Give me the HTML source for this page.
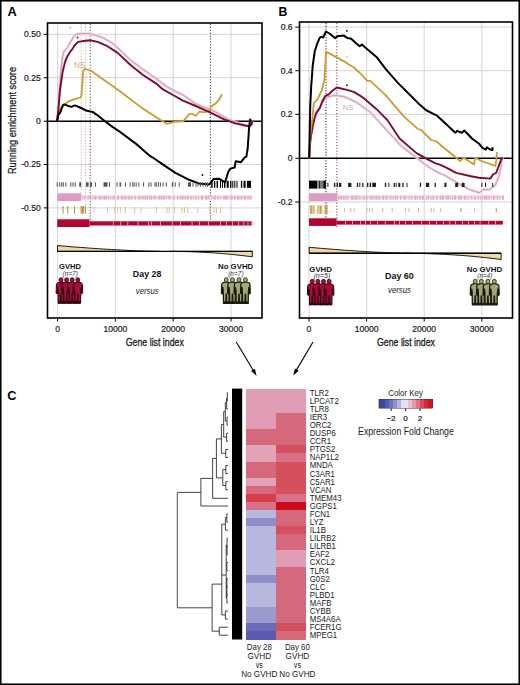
<!DOCTYPE html><html><head><meta charset="utf-8"><style>html,body{margin:0;padding:0;background:#fff;}svg{display:block;}text{font-family:"Liberation Sans", sans-serif;}</style></head><body>
<svg width="520" height="685" viewBox="0 0 520 685">
<rect x="0" y="0" width="520" height="685" fill="#fff"/>
<line x1="57.6" y1="23.0" x2="57.6" y2="318.0" stroke="#cfcfcf" stroke-width="0.9"/>
<line x1="115.4" y1="23.0" x2="115.4" y2="318.0" stroke="#cfcfcf" stroke-width="0.9"/>
<line x1="173.2" y1="23.0" x2="173.2" y2="318.0" stroke="#cfcfcf" stroke-width="0.9"/>
<line x1="231.0" y1="23.0" x2="231.0" y2="318.0" stroke="#cfcfcf" stroke-width="0.9"/>
<line x1="47.5" y1="34.3" x2="262.0" y2="34.3" stroke="#cfcfcf" stroke-width="0.9"/>
<line x1="47.5" y1="77.7" x2="262.0" y2="77.7" stroke="#cfcfcf" stroke-width="0.9"/>
<line x1="47.5" y1="164.5" x2="262.0" y2="164.5" stroke="#cfcfcf" stroke-width="0.9"/>
<line x1="47.5" y1="207.9" x2="262.0" y2="207.9" stroke="#cfcfcf" stroke-width="0.9"/>
<line x1="81.2" y1="24" x2="81.2" y2="201" stroke="#c8a0b4" stroke-width="0.9" stroke-dasharray="1.2,1.7"/>
<line x1="85.7" y1="24" x2="85.7" y2="214" stroke="#c8b070" stroke-width="0.9" stroke-dasharray="1.2,1.7"/>
<line x1="90.2" y1="24" x2="90.2" y2="227" stroke="#503040" stroke-width="0.9" stroke-dasharray="1.2,1.7"/>
<line x1="210.4" y1="24" x2="210.4" y2="220" stroke="#222" stroke-width="0.9" stroke-dasharray="1.2,1.7"/>
<line x1="47.5" y1="121.2" x2="262.0" y2="121.2" stroke="#000" stroke-width="1.6"/>
<polyline points="57.2,121.0 58.2,105.0 59.4,90.0 61.0,70.0 62.5,57.0 63.8,51.9 67.5,47.5 71.0,41.0 75.0,35.0 78.0,34.0 81.2,33.5 90.0,33.8 101.2,36.9 111.2,42.5 118.0,48.1 130.5,60.0 143.0,69.4 155.5,78.1 168.0,87.5 183.0,95.0 195.8,103.7 214.7,111.5 227.3,118.6 236.8,122.6 246.0,125.2 249.5,125.8 251.5,124.0 252.5,121.2" fill="none" stroke="#f4cde0" stroke-width="2.6" stroke-linejoin="round"/>
<polyline points="57.2,121.0 58.2,105.0 59.4,90.0 61.0,70.0 62.5,57.0 63.8,51.9 67.5,47.5 71.0,41.0 75.0,35.0 78.0,34.0 81.2,33.5 90.0,33.8 101.2,36.9 111.2,42.5 118.0,48.1 130.5,60.0 143.0,69.4 155.5,78.1 168.0,87.5 183.0,95.0 195.8,103.7 214.7,111.5 227.3,118.6 236.8,122.6 246.0,125.2 249.5,125.8 251.5,124.0 252.5,121.2" fill="none" stroke="#bf9cad" stroke-width="0.9" stroke-linejoin="round"/>
<polyline points="57.2,121.0 58.5,114.0 60.5,108.0 62.0,106.0 64.0,105.5 67.5,101.9 73.8,99.4 80.6,97.5 81.5,95.0 81.8,90.0 83.1,71.2 85.0,68.8 87.0,69.5 90.6,70.6 120.0,91.3 124.2,94.5 140.5,106.9 160.5,120.0 166.8,123.8 174.2,121.9 183.2,121.3 189.5,113.9 192.6,113.9 195.8,116.0 199.7,111.5 203.7,112.3 210.0,110.8 210.8,106.8 216.3,102.9 220.2,98.1 221.8,94.2" fill="none" stroke="#cc9c30" stroke-width="1.8" stroke-linejoin="round"/>
<polyline points="57.2,121.0 58.5,108.0 60.0,90.0 62.5,72.5 65.0,62.0 67.5,56.2 70.0,52.0 72.5,48.8 75.0,45.0 78.1,41.9 83.8,41.0 90.0,40.2 97.5,41.9 107.5,46.2 118.0,53.1 130.5,65.0 143.0,75.0 155.5,83.1 163.0,89.4 173.0,95.0 183.0,100.6 195.8,106.0 210.0,112.3 224.2,119.4 235.2,123.4 246.2,125.7 249.5,126.3 251.5,124.5 252.5,121.3" fill="none" stroke="#800a30" stroke-width="1.9" stroke-linejoin="round"/>
<polyline points="57.2,121.0 58.1,115.0 60.0,113.0 61.5,109.0 63.1,105.0 64.4,104.4 67.5,105.6 71.2,106.9 75.0,105.4 80.0,107.5 86.2,110.6 92.5,111.9 98.8,116.2 105.0,121.2 112.5,126.9 120.0,131.9 136.8,144.4 150.0,155.9 154.2,158.5 162.7,164.3 175.4,172.8 189.1,179.8 198.7,183.4 209.2,184.4 213.5,179.1 218.8,178.7 225.1,182.3 228.3,171.7 230.4,168.6 234.6,167.5 235.7,161.2 241.0,162.2 244.7,157.3 246.3,156.9 247.7,148.5 249.1,127.3 250.2,119.4 251.0,121.8" fill="none" stroke="#000" stroke-width="2.0" stroke-linejoin="round"/>
<circle cx="70.3" cy="27.6" r="0.9" fill="#aaa"/>
<circle cx="77.5" cy="37.5" r="0.9" fill="#6a0a2a"/>
<circle cx="202.5" cy="175" r="0.9" fill="#000"/>
<text x="74.0" y="68.0" font-size="8.3" fill="#dea468" style="font-family:"Liberation Sans", sans-serif">NS</text>
<rect x="47.5" y="23.0" width="214.5" height="295.0" fill="none" stroke="#000" stroke-width="1.6"/>
<line x1="43.8" y1="34.3" x2="47.5" y2="34.3" stroke="#000" stroke-width="1"/>
<line x1="43.8" y1="77.7" x2="47.5" y2="77.7" stroke="#000" stroke-width="1"/>
<line x1="43.8" y1="164.5" x2="47.5" y2="164.5" stroke="#000" stroke-width="1"/>
<line x1="43.8" y1="207.9" x2="47.5" y2="207.9" stroke="#000" stroke-width="1"/>
<line x1="43.8" y1="121.2" x2="47.5" y2="121.2" stroke="#000" stroke-width="1"/>
<text x="40.8" y="37.1" font-size="8.6" fill="#1a1a1a" text-anchor="end" stroke="#1a1a1a" stroke-width="0.2" style="font-family:"Liberation Sans", sans-serif">0.50</text>
<text x="40.8" y="80.5" font-size="8.6" fill="#1a1a1a" text-anchor="end" stroke="#1a1a1a" stroke-width="0.2" style="font-family:"Liberation Sans", sans-serif">0.25</text>
<text x="40.8" y="167.3" font-size="8.6" fill="#1a1a1a" text-anchor="end" stroke="#1a1a1a" stroke-width="0.2" style="font-family:"Liberation Sans", sans-serif">-0.25</text>
<text x="40.8" y="210.7" font-size="8.6" fill="#1a1a1a" text-anchor="end" stroke="#1a1a1a" stroke-width="0.2" style="font-family:"Liberation Sans", sans-serif">-0.50</text>
<text x="40.8" y="124.0" font-size="8.6" fill="#1a1a1a" text-anchor="end" stroke="#1a1a1a" stroke-width="0.2" style="font-family:"Liberation Sans", sans-serif">0</text>
<line x1="57.6" y1="318" x2="57.6" y2="321.5" stroke="#000" stroke-width="1"/>
<text x="57.6" y="332" font-size="8.6" fill="#1a1a1a" text-anchor="middle" stroke="#1a1a1a" stroke-width="0.2" style="font-family:"Liberation Sans", sans-serif">0</text>
<line x1="115.4" y1="318" x2="115.4" y2="321.5" stroke="#000" stroke-width="1"/>
<text x="115.4" y="332" font-size="8.6" fill="#1a1a1a" text-anchor="middle" stroke="#1a1a1a" stroke-width="0.2" style="font-family:"Liberation Sans", sans-serif">10000</text>
<line x1="173.2" y1="318" x2="173.2" y2="321.5" stroke="#000" stroke-width="1"/>
<text x="173.2" y="332" font-size="8.6" fill="#1a1a1a" text-anchor="middle" stroke="#1a1a1a" stroke-width="0.2" style="font-family:"Liberation Sans", sans-serif">20000</text>
<line x1="231.0" y1="318" x2="231.0" y2="321.5" stroke="#000" stroke-width="1"/>
<text x="231.0" y="332" font-size="8.6" fill="#1a1a1a" text-anchor="middle" stroke="#1a1a1a" stroke-width="0.2" style="font-family:"Liberation Sans", sans-serif">30000</text>
<text x="154.8" y="345.8" font-size="10.6" fill="#1a1a1a" text-anchor="middle" textLength="58" lengthAdjust="spacingAndGlyphs" stroke="#1a1a1a" stroke-width="0.3" style="font-family:"Liberation Sans", sans-serif">Gene list index</text>
<text transform="translate(16.1,120.5) rotate(-90)" font-size="10.3" fill="#1a1a1a" text-anchor="middle" textLength="107" lengthAdjust="spacingAndGlyphs" stroke="#1a1a1a" stroke-width="0.25" style="font-family:"Liberation Sans", sans-serif">Running enrichment score</text>
<line x1="309.0" y1="22.0" x2="309.0" y2="318.0" stroke="#cfcfcf" stroke-width="0.9"/>
<line x1="366.6" y1="22.0" x2="366.6" y2="318.0" stroke="#cfcfcf" stroke-width="0.9"/>
<line x1="424.2" y1="22.0" x2="424.2" y2="318.0" stroke="#cfcfcf" stroke-width="0.9"/>
<line x1="481.8" y1="22.0" x2="481.8" y2="318.0" stroke="#cfcfcf" stroke-width="0.9"/>
<line x1="299.5" y1="27.1" x2="512.5" y2="27.1" stroke="#cfcfcf" stroke-width="0.9"/>
<line x1="299.5" y1="70.7" x2="512.5" y2="70.7" stroke="#cfcfcf" stroke-width="0.9"/>
<line x1="299.5" y1="114.4" x2="512.5" y2="114.4" stroke="#cfcfcf" stroke-width="0.9"/>
<line x1="299.5" y1="202.0" x2="512.5" y2="202.0" stroke="#cfcfcf" stroke-width="0.9"/>
<line x1="326" y1="23" x2="326" y2="218" stroke="#3a3418" stroke-width="1.1" stroke-dasharray="1.2,1.6"/>
<line x1="336.9" y1="23" x2="336.9" y2="227" stroke="#7a2040" stroke-width="0.9" stroke-dasharray="1.2,1.7"/>
<line x1="299.5" y1="158.3" x2="512.5" y2="158.3" stroke="#000" stroke-width="1.6"/>
<polyline points="309.2,158.3 309.8,145.0 311.0,136.0 312.5,127.5 314.0,120.0 316.2,113.5 320.0,108.0 322.0,103.0 326.2,97.5 332.5,95.6 337.5,95.6 345.0,96.9 356.5,102.3 370.4,112.3 385.8,129.2 401.2,146.2 416.5,157.7 427.3,166.2 435.0,170.8 446.3,176.2 462.7,186.0 470.9,190.0 479.0,192.8 483.9,189.2 488.8,190.0 495.4,185.1 499.5,174.5 501.9,159.8 503.0,157.0" fill="none" stroke="#f4cde0" stroke-width="2.6" stroke-linejoin="round"/>
<polyline points="309.2,158.3 309.8,145.0 311.0,136.0 312.5,127.5 314.0,120.0 316.2,113.5 320.0,108.0 322.0,103.0 326.2,97.5 332.5,95.6 337.5,95.6 345.0,96.9 356.5,102.3 370.4,112.3 385.8,129.2 401.2,146.2 416.5,157.7 427.3,166.2 435.0,170.8 446.3,176.2 462.7,186.0 470.9,190.0 479.0,192.8 483.9,189.2 488.8,190.0 495.4,185.1 499.5,174.5 501.9,159.8 503.0,157.0" fill="none" stroke="#bf9cad" stroke-width="0.9" stroke-linejoin="round"/>
<polyline points="309.2,158.3 309.8,145.0 311.0,136.0 312.5,127.5 314.0,120.0 316.2,113.1 320.0,107.5 322.0,102.0 325.0,96.2 328.8,94.4 332.0,91.0 336.9,87.5 345.0,89.4 353.8,91.9 360.0,95.6 364.2,98.5 376.5,109.2 382.7,115.4 387.3,120.0 399.6,138.5 416.5,153.1 427.3,159.2 435.0,163.1 439.8,164.7 446.3,167.6 456.2,172.9 470.9,176.2 479.0,177.8 490.5,178.6 492.9,174.5 496.2,172.9 498.6,166.3 501.1,159.8 502.7,157.4" fill="none" stroke="#800a30" stroke-width="1.9" stroke-linejoin="round"/>
<polyline points="309.2,158.3 310.6,132.5 312.5,117.5 313.8,103.1 317.5,99.4 321.9,90.0 324.4,80.0 325.0,70.0 326.0,52.5 328.8,53.1 345.0,61.9 353.8,67.5 360.0,73.0 367.3,80.8 370.4,80.8 385.8,95.4 398.1,109.8 404.2,116.9 418.1,129.2 421.2,130.0 431.2,140.0 436.5,141.5 446.3,149.7 456.2,157.8 460.2,161.1 463.5,157.8 474.1,164.4 475.0,157.8 482.7,161.5 495.4,165.8 496.2,160.4 496.9,151.9" fill="none" stroke="#cc9c30" stroke-width="1.8" stroke-linejoin="round"/>
<polyline points="309.2,158.3 309.6,140.0 310.2,106.6 311.2,86.2 312.7,65.8 314.7,51.5 317.3,43.4 319.8,37.6 321.4,36.8 323.1,37.5 326.0,31.5 329.4,33.5 335.0,38.1 337.5,36.2 343.8,35.6 347.5,38.1 351.2,38.8 355.0,42.3 359.6,46.2 361.9,44.6 367.3,49.2 376.5,56.9 385.8,69.2 398.1,83.1 408.8,93.8 419.6,104.6 425.8,110.0 431.9,113.1 436.5,115.3 446.3,124.3 455.3,132.8 457.0,130.9 461.9,132.8 464.3,130.5 472.5,139.0 478.8,143.5 482.7,148.1 485.8,149.6 486.9,147.3 489.6,149.2 492.3,150.0 492.8,147.3" fill="none" stroke="#000" stroke-width="2.0" stroke-linejoin="round"/>
<circle cx="346.9" cy="30.9" r="0.9" fill="#000"/>
<circle cx="346.9" cy="56.9" r="0.9" fill="#d8b070"/>
<circle cx="346.9" cy="85.25" r="0.9" fill="#6a0a2a"/>
<text x="342.8" y="109.8" font-size="7.6" fill="#d8a8c0" style="font-family:"Liberation Sans", sans-serif">NS</text>
<rect x="299.5" y="22.0" width="213.0" height="296.0" fill="none" stroke="#000" stroke-width="1.6"/>
<line x1="295.3" y1="27.1" x2="299.5" y2="27.1" stroke="#000" stroke-width="1"/>
<text x="292.6" y="29.9" font-size="8.6" fill="#1a1a1a" text-anchor="end" stroke="#1a1a1a" stroke-width="0.2" style="font-family:"Liberation Sans", sans-serif">0.6</text>
<line x1="295.3" y1="70.7" x2="299.5" y2="70.7" stroke="#000" stroke-width="1"/>
<text x="292.6" y="73.5" font-size="8.6" fill="#1a1a1a" text-anchor="end" stroke="#1a1a1a" stroke-width="0.2" style="font-family:"Liberation Sans", sans-serif">0.4</text>
<line x1="295.3" y1="114.4" x2="299.5" y2="114.4" stroke="#000" stroke-width="1"/>
<text x="292.6" y="117.2" font-size="8.6" fill="#1a1a1a" text-anchor="end" stroke="#1a1a1a" stroke-width="0.2" style="font-family:"Liberation Sans", sans-serif">0.2</text>
<line x1="295.3" y1="202.0" x2="299.5" y2="202.0" stroke="#000" stroke-width="1"/>
<text x="292.6" y="204.8" font-size="8.6" fill="#1a1a1a" text-anchor="end" stroke="#1a1a1a" stroke-width="0.2" style="font-family:"Liberation Sans", sans-serif">-0.2</text>
<line x1="295.3" y1="158.3" x2="299.5" y2="158.3" stroke="#000" stroke-width="1"/>
<text x="292.6" y="161.1" font-size="8.6" fill="#1a1a1a" text-anchor="end" stroke="#1a1a1a" stroke-width="0.2" style="font-family:"Liberation Sans", sans-serif">0</text>
<line x1="309.0" y1="318" x2="309.0" y2="321.5" stroke="#000" stroke-width="1"/>
<text x="309.0" y="332.2" font-size="8.6" fill="#1a1a1a" text-anchor="middle" stroke="#1a1a1a" stroke-width="0.2" style="font-family:"Liberation Sans", sans-serif">0</text>
<line x1="366.6" y1="318" x2="366.6" y2="321.5" stroke="#000" stroke-width="1"/>
<text x="366.6" y="332.2" font-size="8.6" fill="#1a1a1a" text-anchor="middle" stroke="#1a1a1a" stroke-width="0.2" style="font-family:"Liberation Sans", sans-serif">10000</text>
<line x1="424.2" y1="318" x2="424.2" y2="321.5" stroke="#000" stroke-width="1"/>
<text x="424.2" y="332.2" font-size="8.6" fill="#1a1a1a" text-anchor="middle" stroke="#1a1a1a" stroke-width="0.2" style="font-family:"Liberation Sans", sans-serif">20000</text>
<line x1="481.8" y1="318" x2="481.8" y2="321.5" stroke="#000" stroke-width="1"/>
<text x="481.8" y="332.2" font-size="8.6" fill="#1a1a1a" text-anchor="middle" stroke="#1a1a1a" stroke-width="0.2" style="font-family:"Liberation Sans", sans-serif">30000</text>
<text x="406" y="345.8" font-size="10.6" fill="#1a1a1a" text-anchor="middle" textLength="58" lengthAdjust="spacingAndGlyphs" stroke="#1a1a1a" stroke-width="0.3" style="font-family:"Liberation Sans", sans-serif">Gene list index</text>
<rect x="56.70" y="182.30" width="1.00" height="4.40" fill="#555"/>
<rect x="59.20" y="182.30" width="1.00" height="4.40" fill="#555"/>
<rect x="61.20" y="182.30" width="1.00" height="4.40" fill="#555"/>
<rect x="62.80" y="182.30" width="1.00" height="4.40" fill="#555"/>
<rect x="65.30" y="182.30" width="1.00" height="4.40" fill="#555"/>
<rect x="70.30" y="182.30" width="1.00" height="4.40" fill="#555"/>
<rect x="72.50" y="182.30" width="1.00" height="4.40" fill="#555"/>
<rect x="74.70" y="182.30" width="1.00" height="4.40" fill="#555"/>
<rect x="79.20" y="182.30" width="2.00" height="4.40" fill="#555"/>
<rect x="86.00" y="182.30" width="2.60" height="4.40" fill="#555"/>
<rect x="90.00" y="182.30" width="2.00" height="4.40" fill="#555"/>
<rect x="94.90" y="182.30" width="1.00" height="4.40" fill="#555"/>
<rect x="103.50" y="182.30" width="4.00" height="4.40" fill="#555"/>
<rect x="109.00" y="182.30" width="1.00" height="4.40" fill="#555"/>
<rect x="116.50" y="182.30" width="1.00" height="4.40" fill="#555"/>
<rect x="119.50" y="182.30" width="1.00" height="4.40" fill="#555"/>
<rect x="120.20" y="182.30" width="1.00" height="4.40" fill="#555"/>
<rect x="124.90" y="182.30" width="1.00" height="4.40" fill="#555"/>
<rect x="129.60" y="182.30" width="1.00" height="4.40" fill="#555"/>
<rect x="132.30" y="182.30" width="1.00" height="4.40" fill="#555"/>
<rect x="133.60" y="182.30" width="1.00" height="4.40" fill="#555"/>
<rect x="135.70" y="182.30" width="1.00" height="4.40" fill="#555"/>
<rect x="138.30" y="182.30" width="1.00" height="4.40" fill="#555"/>
<rect x="143.10" y="182.30" width="1.00" height="4.40" fill="#555"/>
<rect x="148.40" y="182.30" width="1.00" height="4.40" fill="#555"/>
<rect x="150.50" y="182.30" width="1.00" height="4.40" fill="#555"/>
<rect x="154.50" y="182.30" width="1.00" height="4.40" fill="#555"/>
<rect x="155.80" y="182.30" width="1.00" height="4.40" fill="#555"/>
<rect x="157.90" y="182.30" width="1.00" height="4.40" fill="#555"/>
<rect x="159.90" y="182.30" width="1.00" height="4.40" fill="#555"/>
<rect x="162.60" y="182.30" width="1.00" height="4.40" fill="#555"/>
<rect x="165.90" y="182.30" width="1.00" height="4.40" fill="#555"/>
<rect x="171.80" y="182.30" width="1.40" height="4.40" fill="#555"/>
<rect x="174.70" y="182.30" width="1.00" height="4.40" fill="#555"/>
<rect x="178.70" y="182.30" width="1.00" height="4.40" fill="#555"/>
<rect x="188.00" y="182.30" width="2.00" height="4.40" fill="#555"/>
<rect x="190.00" y="182.30" width="1.00" height="4.40" fill="#555"/>
<rect x="192.50" y="182.30" width="1.00" height="4.40" fill="#555"/>
<rect x="195.50" y="182.30" width="1.00" height="4.40" fill="#555"/>
<rect x="197.50" y="182.30" width="1.00" height="4.40" fill="#555"/>
<rect x="200.00" y="182.30" width="1.00" height="4.40" fill="#555"/>
<rect x="202.50" y="182.30" width="1.00" height="4.40" fill="#555"/>
<rect x="205.00" y="182.30" width="1.00" height="4.40" fill="#555"/>
<rect x="207.00" y="182.30" width="1.00" height="4.40" fill="#555"/>
<rect x="211.20" y="180.80" width="1.40" height="7.00" fill="#000"/>
<rect x="213.90" y="180.80" width="1.40" height="7.00" fill="#000"/>
<rect x="216.60" y="180.80" width="1.40" height="7.00" fill="#000"/>
<rect x="220.00" y="180.80" width="1.00" height="7.00" fill="#000"/>
<rect x="222.00" y="180.80" width="1.00" height="7.00" fill="#000"/>
<rect x="224.00" y="180.80" width="1.40" height="7.00" fill="#000"/>
<rect x="226.70" y="180.80" width="2.00" height="7.00" fill="#000"/>
<rect x="230.10" y="180.80" width="1.30" height="7.00" fill="#000"/>
<rect x="232.30" y="180.80" width="1.00" height="7.00" fill="#000"/>
<rect x="234.30" y="180.80" width="1.00" height="7.00" fill="#000"/>
<rect x="236.50" y="180.80" width="1.00" height="7.00" fill="#000"/>
<rect x="240.90" y="180.80" width="1.30" height="7.00" fill="#000"/>
<rect x="243.50" y="180.80" width="2.10" height="7.00" fill="#000"/>
<rect x="246.90" y="180.80" width="4.10" height="7.00" fill="#000"/>
<rect x="57.20" y="193.30" width="24.00" height="7.80" fill="#dc9cc4"/>
<rect x="81.20" y="195.60" width="171.10" height="3.90" fill="#f4d8e6"/>
<rect x="82.00" y="195.60" width="1.00" height="3.90" fill="#e2aacb"/>
<rect x="84.00" y="195.60" width="1.40" height="3.90" fill="#e2aacb"/>
<rect x="87.60" y="195.60" width="0.80" height="3.90" fill="#e2aacb"/>
<rect x="89.00" y="195.60" width="2.00" height="3.90" fill="#e2aacb"/>
<rect x="92.50" y="195.60" width="1.00" height="3.90" fill="#e2aacb"/>
<rect x="94.50" y="195.60" width="2.00" height="3.90" fill="#e2aacb"/>
<rect x="98.70" y="195.60" width="2.00" height="3.90" fill="#e2aacb"/>
<rect x="101.70" y="195.60" width="1.00" height="3.90" fill="#e2aacb"/>
<rect x="103.70" y="195.60" width="2.00" height="3.90" fill="#e2aacb"/>
<rect x="106.30" y="195.60" width="0.80" height="3.90" fill="#e2aacb"/>
<rect x="108.10" y="195.60" width="0.80" height="3.90" fill="#e2aacb"/>
<rect x="110.40" y="195.60" width="0.80" height="3.90" fill="#e2aacb"/>
<rect x="112.70" y="195.60" width="2.00" height="3.90" fill="#e2aacb"/>
<rect x="116.90" y="195.60" width="2.00" height="3.90" fill="#e2aacb"/>
<rect x="121.10" y="195.60" width="2.00" height="3.90" fill="#e2aacb"/>
<rect x="124.10" y="195.60" width="1.40" height="3.90" fill="#e2aacb"/>
<rect x="126.10" y="195.60" width="0.80" height="3.90" fill="#e2aacb"/>
<rect x="127.90" y="195.60" width="2.00" height="3.90" fill="#e2aacb"/>
<rect x="130.90" y="195.60" width="1.40" height="3.90" fill="#e2aacb"/>
<rect x="134.50" y="195.60" width="1.40" height="3.90" fill="#e2aacb"/>
<rect x="138.10" y="195.60" width="2.00" height="3.90" fill="#e2aacb"/>
<rect x="141.60" y="195.60" width="2.00" height="3.90" fill="#e2aacb"/>
<rect x="144.60" y="195.60" width="1.40" height="3.90" fill="#e2aacb"/>
<rect x="146.60" y="195.60" width="1.40" height="3.90" fill="#e2aacb"/>
<rect x="149.00" y="195.60" width="1.40" height="3.90" fill="#e2aacb"/>
<rect x="151.00" y="195.60" width="1.00" height="3.90" fill="#e2aacb"/>
<rect x="153.50" y="195.60" width="1.40" height="3.90" fill="#e2aacb"/>
<rect x="155.50" y="195.60" width="0.80" height="3.90" fill="#e2aacb"/>
<rect x="158.50" y="195.60" width="2.00" height="3.90" fill="#e2aacb"/>
<rect x="161.10" y="195.60" width="1.40" height="3.90" fill="#e2aacb"/>
<rect x="163.10" y="195.60" width="2.00" height="3.90" fill="#e2aacb"/>
<rect x="166.10" y="195.60" width="0.80" height="3.90" fill="#e2aacb"/>
<rect x="168.40" y="195.60" width="2.00" height="3.90" fill="#e2aacb"/>
<rect x="172.60" y="195.60" width="0.80" height="3.90" fill="#e2aacb"/>
<rect x="174.00" y="195.60" width="0.80" height="3.90" fill="#e2aacb"/>
<rect x="177.00" y="195.60" width="1.40" height="3.90" fill="#e2aacb"/>
<rect x="179.90" y="195.60" width="1.00" height="3.90" fill="#e2aacb"/>
<rect x="181.50" y="195.60" width="1.40" height="3.90" fill="#e2aacb"/>
<rect x="183.50" y="195.60" width="0.80" height="3.90" fill="#e2aacb"/>
<rect x="184.90" y="195.60" width="0.80" height="3.90" fill="#e2aacb"/>
<rect x="186.70" y="195.60" width="2.00" height="3.90" fill="#e2aacb"/>
<rect x="190.20" y="195.60" width="1.40" height="3.90" fill="#e2aacb"/>
<rect x="192.60" y="195.60" width="0.80" height="3.90" fill="#e2aacb"/>
<rect x="194.90" y="195.60" width="1.40" height="3.90" fill="#e2aacb"/>
<rect x="197.80" y="195.60" width="1.00" height="3.90" fill="#e2aacb"/>
<rect x="201.00" y="195.60" width="2.00" height="3.90" fill="#e2aacb"/>
<rect x="205.20" y="195.60" width="2.00" height="3.90" fill="#e2aacb"/>
<rect x="207.80" y="195.60" width="1.40" height="3.90" fill="#e2aacb"/>
<rect x="211.40" y="195.60" width="1.00" height="3.90" fill="#e2aacb"/>
<rect x="213.90" y="195.60" width="2.00" height="3.90" fill="#e2aacb"/>
<rect x="217.40" y="195.60" width="1.40" height="3.90" fill="#e2aacb"/>
<rect x="220.30" y="195.60" width="0.80" height="3.90" fill="#e2aacb"/>
<rect x="223.30" y="195.60" width="1.40" height="3.90" fill="#e2aacb"/>
<rect x="225.30" y="195.60" width="2.00" height="3.90" fill="#e2aacb"/>
<rect x="228.30" y="195.60" width="0.80" height="3.90" fill="#e2aacb"/>
<rect x="230.60" y="195.60" width="2.00" height="3.90" fill="#e2aacb"/>
<rect x="234.10" y="195.60" width="1.40" height="3.90" fill="#e2aacb"/>
<rect x="237.00" y="195.60" width="2.00" height="3.90" fill="#e2aacb"/>
<rect x="239.60" y="195.60" width="0.80" height="3.90" fill="#e2aacb"/>
<rect x="241.00" y="195.60" width="1.40" height="3.90" fill="#e2aacb"/>
<rect x="243.90" y="195.60" width="2.00" height="3.90" fill="#e2aacb"/>
<rect x="247.40" y="195.60" width="1.40" height="3.90" fill="#e2aacb"/>
<rect x="249.80" y="195.60" width="1.40" height="3.90" fill="#e2aacb"/>
<rect x="62.50" y="206.00" width="1.00" height="7.60" fill="#b48a34"/>
<rect x="67.30" y="206.00" width="1.00" height="7.60" fill="#b48a34"/>
<rect x="74.00" y="206.00" width="1.00" height="7.60" fill="#b48a34"/>
<rect x="80.60" y="206.00" width="1.00" height="7.60" fill="#b48a34"/>
<rect x="81.90" y="206.00" width="1.00" height="7.60" fill="#b48a34"/>
<rect x="82.80" y="206.00" width="1.00" height="7.60" fill="#b48a34"/>
<rect x="84.80" y="206.00" width="1.00" height="7.60" fill="#b48a34"/>
<rect x="93.60" y="207.00" width="0.80" height="6.00" fill="#dcb878"/>
<rect x="107.10" y="207.00" width="0.80" height="6.00" fill="#dcb878"/>
<rect x="113.80" y="207.00" width="0.80" height="6.00" fill="#dcb878"/>
<rect x="117.20" y="207.00" width="0.80" height="6.00" fill="#dcb878"/>
<rect x="119.90" y="207.00" width="0.80" height="6.00" fill="#dcb878"/>
<rect x="125.00" y="207.00" width="0.80" height="6.00" fill="#dcb878"/>
<rect x="134.40" y="207.00" width="0.80" height="6.00" fill="#dcb878"/>
<rect x="140.50" y="207.00" width="0.80" height="6.00" fill="#dcb878"/>
<rect x="155.90" y="207.00" width="0.80" height="6.00" fill="#dcb878"/>
<rect x="166.70" y="207.00" width="0.80" height="6.00" fill="#dcb878"/>
<rect x="168.70" y="207.00" width="0.80" height="6.00" fill="#dcb878"/>
<rect x="174.10" y="207.00" width="0.80" height="6.00" fill="#dcb878"/>
<rect x="181.50" y="207.00" width="0.80" height="6.00" fill="#dcb878"/>
<rect x="184.10" y="207.00" width="0.80" height="6.00" fill="#dcb878"/>
<rect x="187.30" y="207.00" width="0.80" height="6.00" fill="#dcb878"/>
<rect x="197.40" y="207.00" width="0.80" height="6.00" fill="#dcb878"/>
<rect x="209.50" y="207.00" width="0.80" height="6.00" fill="#dcb878"/>
<rect x="213.50" y="207.00" width="0.80" height="6.00" fill="#dcb878"/>
<rect x="216.20" y="207.00" width="0.80" height="6.00" fill="#dcb878"/>
<rect x="220.20" y="207.00" width="0.80" height="6.00" fill="#dcb878"/>
<rect x="57.20" y="219.30" width="32.30" height="7.70" fill="#b2052e"/>
<rect x="89.50" y="221.30" width="162.80" height="4.20" fill="#b2052e"/>
<rect x="112.90" y="221.30" width="0.80" height="4.20" fill="#f0b0c0"/>
<rect x="120.30" y="221.30" width="0.80" height="4.20" fill="#f0b0c0"/>
<rect x="127.40" y="221.30" width="0.80" height="4.20" fill="#f0b0c0"/>
<rect x="137.70" y="221.30" width="0.80" height="4.20" fill="#f0b0c0"/>
<rect x="148.30" y="221.30" width="0.80" height="4.20" fill="#f0b0c0"/>
<rect x="151.00" y="221.30" width="0.80" height="4.20" fill="#f0b0c0"/>
<rect x="160.00" y="221.30" width="0.80" height="4.20" fill="#f0b0c0"/>
<rect x="171.80" y="221.30" width="0.80" height="4.20" fill="#f0b0c0"/>
<rect x="180.00" y="221.30" width="0.80" height="4.20" fill="#f0b0c0"/>
<rect x="191.70" y="221.30" width="0.80" height="4.20" fill="#f0b0c0"/>
<rect x="199.10" y="221.30" width="0.80" height="4.20" fill="#f0b0c0"/>
<rect x="208.00" y="221.30" width="0.80" height="4.20" fill="#f0b0c0"/>
<rect x="220.00" y="221.30" width="0.80" height="4.20" fill="#f0b0c0"/>
<rect x="226.00" y="221.30" width="0.80" height="4.20" fill="#f0b0c0"/>
<rect x="232.10" y="221.30" width="0.80" height="4.20" fill="#f0b0c0"/>
<rect x="238.20" y="221.30" width="0.80" height="4.20" fill="#f0b0c0"/>
<rect x="243.50" y="221.30" width="0.80" height="4.20" fill="#f0b0c0"/>
<rect x="247.60" y="221.30" width="0.80" height="4.20" fill="#f0b0c0"/>
<rect x="251.00" y="221.30" width="0.80" height="4.20" fill="#f0b0c0"/>
<rect x="309.00" y="180.60" width="8.10" height="8.00" fill="#000"/>
<rect x="319.10" y="180.60" width="1.40" height="8.00" fill="#000"/>
<rect x="323.20" y="180.60" width="2.70" height="8.00" fill="#000"/>
<rect x="317.10" y="180.60" width="2.00" height="8.00" fill="#888"/>
<rect x="320.50" y="180.60" width="2.70" height="8.00" fill="#777"/>
<rect x="327.40" y="182.80" width="1.00" height="4.20" fill="#222"/>
<rect x="333.90" y="182.80" width="1.40" height="4.20" fill="#222"/>
<rect x="336.60" y="182.80" width="1.40" height="4.20" fill="#222"/>
<rect x="339.00" y="182.80" width="2.30" height="4.20" fill="#222"/>
<rect x="348.10" y="182.80" width="3.30" height="4.20" fill="#222"/>
<rect x="356.80" y="182.80" width="1.40" height="4.20" fill="#222"/>
<rect x="359.30" y="182.80" width="1.00" height="4.20" fill="#222"/>
<rect x="362.20" y="182.80" width="1.30" height="4.20" fill="#222"/>
<rect x="366.90" y="182.80" width="1.40" height="4.20" fill="#222"/>
<rect x="369.60" y="182.80" width="1.40" height="4.20" fill="#222"/>
<rect x="372.30" y="182.80" width="2.00" height="4.20" fill="#222"/>
<rect x="372.70" y="182.80" width="3.30" height="4.20" fill="#222"/>
<rect x="384.80" y="182.80" width="1.40" height="4.20" fill="#222"/>
<rect x="388.30" y="182.80" width="1.00" height="4.20" fill="#222"/>
<rect x="393.60" y="182.80" width="1.30" height="4.20" fill="#222"/>
<rect x="395.70" y="182.80" width="1.00" height="4.20" fill="#222"/>
<rect x="398.30" y="182.80" width="2.00" height="4.20" fill="#222"/>
<rect x="402.30" y="182.80" width="1.30" height="4.20" fill="#222"/>
<rect x="406.50" y="182.80" width="1.00" height="4.20" fill="#222"/>
<rect x="419.80" y="182.80" width="1.30" height="4.20" fill="#222"/>
<rect x="425.90" y="182.80" width="3.30" height="4.20" fill="#222"/>
<rect x="434.60" y="182.80" width="1.30" height="4.20" fill="#222"/>
<rect x="444.40" y="182.80" width="2.10" height="4.20" fill="#222"/>
<rect x="455.20" y="182.80" width="2.90" height="4.20" fill="#222"/>
<rect x="461.70" y="182.80" width="2.90" height="4.20" fill="#222"/>
<rect x="481.40" y="182.80" width="1.00" height="4.20" fill="#222"/>
<rect x="485.00" y="182.80" width="1.00" height="4.20" fill="#222"/>
<rect x="492.20" y="182.80" width="1.00" height="4.20" fill="#222"/>
<rect x="309.00" y="193.20" width="28.30" height="8.00" fill="#dc9cc4"/>
<rect x="337.30" y="195.50" width="165.50" height="4.10" fill="#f4d8e6"/>
<rect x="338.00" y="195.50" width="1.40" height="4.10" fill="#e2aacb"/>
<rect x="340.40" y="195.50" width="2.00" height="4.10" fill="#e2aacb"/>
<rect x="343.00" y="195.50" width="0.80" height="4.10" fill="#e2aacb"/>
<rect x="344.40" y="195.50" width="1.40" height="4.10" fill="#e2aacb"/>
<rect x="346.40" y="195.50" width="1.00" height="4.10" fill="#e2aacb"/>
<rect x="348.00" y="195.50" width="0.80" height="4.10" fill="#e2aacb"/>
<rect x="351.00" y="195.50" width="2.00" height="4.10" fill="#e2aacb"/>
<rect x="353.60" y="195.50" width="1.00" height="4.10" fill="#e2aacb"/>
<rect x="355.20" y="195.50" width="2.00" height="4.10" fill="#e2aacb"/>
<rect x="357.80" y="195.50" width="0.80" height="4.10" fill="#e2aacb"/>
<rect x="359.60" y="195.50" width="0.80" height="4.10" fill="#e2aacb"/>
<rect x="362.60" y="195.50" width="0.80" height="4.10" fill="#e2aacb"/>
<rect x="364.40" y="195.50" width="0.80" height="4.10" fill="#e2aacb"/>
<rect x="366.20" y="195.50" width="1.40" height="4.10" fill="#e2aacb"/>
<rect x="369.80" y="195.50" width="1.00" height="4.10" fill="#e2aacb"/>
<rect x="371.40" y="195.50" width="1.40" height="4.10" fill="#e2aacb"/>
<rect x="373.80" y="195.50" width="0.80" height="4.10" fill="#e2aacb"/>
<rect x="375.60" y="195.50" width="1.40" height="4.10" fill="#e2aacb"/>
<rect x="377.60" y="195.50" width="0.80" height="4.10" fill="#e2aacb"/>
<rect x="379.00" y="195.50" width="1.00" height="4.10" fill="#e2aacb"/>
<rect x="382.20" y="195.50" width="2.00" height="4.10" fill="#e2aacb"/>
<rect x="385.70" y="195.50" width="2.00" height="4.10" fill="#e2aacb"/>
<rect x="389.90" y="195.50" width="1.40" height="4.10" fill="#e2aacb"/>
<rect x="392.80" y="195.50" width="1.00" height="4.10" fill="#e2aacb"/>
<rect x="394.80" y="195.50" width="1.00" height="4.10" fill="#e2aacb"/>
<rect x="396.40" y="195.50" width="1.40" height="4.10" fill="#e2aacb"/>
<rect x="400.00" y="195.50" width="1.40" height="4.10" fill="#e2aacb"/>
<rect x="403.60" y="195.50" width="1.40" height="4.10" fill="#e2aacb"/>
<rect x="405.60" y="195.50" width="0.80" height="4.10" fill="#e2aacb"/>
<rect x="408.60" y="195.50" width="1.00" height="4.10" fill="#e2aacb"/>
<rect x="411.10" y="195.50" width="1.00" height="4.10" fill="#e2aacb"/>
<rect x="414.30" y="195.50" width="2.00" height="4.10" fill="#e2aacb"/>
<rect x="416.90" y="195.50" width="0.80" height="4.10" fill="#e2aacb"/>
<rect x="419.20" y="195.50" width="1.40" height="4.10" fill="#e2aacb"/>
<rect x="422.10" y="195.50" width="2.00" height="4.10" fill="#e2aacb"/>
<rect x="426.30" y="195.50" width="0.80" height="4.10" fill="#e2aacb"/>
<rect x="427.70" y="195.50" width="1.40" height="4.10" fill="#e2aacb"/>
<rect x="431.30" y="195.50" width="0.80" height="4.10" fill="#e2aacb"/>
<rect x="432.70" y="195.50" width="1.40" height="4.10" fill="#e2aacb"/>
<rect x="436.30" y="195.50" width="1.40" height="4.10" fill="#e2aacb"/>
<rect x="439.90" y="195.50" width="1.40" height="4.10" fill="#e2aacb"/>
<rect x="441.90" y="195.50" width="2.00" height="4.10" fill="#e2aacb"/>
<rect x="445.40" y="195.50" width="1.00" height="4.10" fill="#e2aacb"/>
<rect x="447.00" y="195.50" width="2.00" height="4.10" fill="#e2aacb"/>
<rect x="449.60" y="195.50" width="1.00" height="4.10" fill="#e2aacb"/>
<rect x="452.10" y="195.50" width="1.00" height="4.10" fill="#e2aacb"/>
<rect x="454.10" y="195.50" width="2.00" height="4.10" fill="#e2aacb"/>
<rect x="458.30" y="195.50" width="2.00" height="4.10" fill="#e2aacb"/>
<rect x="460.90" y="195.50" width="1.00" height="4.10" fill="#e2aacb"/>
<rect x="464.10" y="195.50" width="2.00" height="4.10" fill="#e2aacb"/>
<rect x="467.60" y="195.50" width="1.00" height="4.10" fill="#e2aacb"/>
<rect x="470.80" y="195.50" width="1.40" height="4.10" fill="#e2aacb"/>
<rect x="474.40" y="195.50" width="1.40" height="4.10" fill="#e2aacb"/>
<rect x="478.00" y="195.50" width="1.00" height="4.10" fill="#e2aacb"/>
<rect x="480.00" y="195.50" width="0.80" height="4.10" fill="#e2aacb"/>
<rect x="481.80" y="195.50" width="1.00" height="4.10" fill="#e2aacb"/>
<rect x="483.80" y="195.50" width="1.00" height="4.10" fill="#e2aacb"/>
<rect x="485.40" y="195.50" width="2.00" height="4.10" fill="#e2aacb"/>
<rect x="488.40" y="195.50" width="1.40" height="4.10" fill="#e2aacb"/>
<rect x="491.30" y="195.50" width="0.80" height="4.10" fill="#e2aacb"/>
<rect x="493.10" y="195.50" width="2.00" height="4.10" fill="#e2aacb"/>
<rect x="496.60" y="195.50" width="1.40" height="4.10" fill="#e2aacb"/>
<rect x="499.00" y="195.50" width="0.80" height="4.10" fill="#e2aacb"/>
<rect x="502.00" y="195.50" width="2.00" height="4.10" fill="#e2aacb"/>
<rect x="309.95" y="205.30" width="0.90" height="8.60" fill="#c49a3c"/>
<rect x="311.15" y="205.30" width="0.90" height="8.60" fill="#c49a3c"/>
<rect x="312.55" y="205.30" width="0.90" height="8.60" fill="#c49a3c"/>
<rect x="313.55" y="205.30" width="0.90" height="8.60" fill="#c49a3c"/>
<rect x="317.35" y="205.30" width="0.90" height="8.60" fill="#c49a3c"/>
<rect x="318.65" y="205.30" width="0.90" height="8.60" fill="#c49a3c"/>
<rect x="320.05" y="205.30" width="0.90" height="8.60" fill="#c49a3c"/>
<rect x="321.35" y="205.30" width="0.90" height="8.60" fill="#c49a3c"/>
<rect x="324.50" y="205.30" width="2.00" height="8.60" fill="#c49a3c"/>
<rect x="326.75" y="205.30" width="0.90" height="8.60" fill="#c49a3c"/>
<rect x="344.25" y="208.00" width="0.90" height="4.20" fill="#d8b070"/>
<rect x="350.35" y="208.00" width="0.90" height="4.20" fill="#d8b070"/>
<rect x="353.65" y="208.00" width="0.90" height="4.20" fill="#d8b070"/>
<rect x="366.45" y="208.00" width="0.90" height="4.20" fill="#d8b070"/>
<rect x="369.15" y="208.00" width="0.90" height="4.20" fill="#d8b070"/>
<rect x="371.85" y="208.00" width="0.90" height="4.20" fill="#d8b070"/>
<rect x="382.35" y="208.00" width="0.90" height="4.20" fill="#d8b070"/>
<rect x="391.75" y="208.00" width="0.90" height="4.20" fill="#d8b070"/>
<rect x="405.25" y="208.00" width="0.90" height="4.20" fill="#d8b070"/>
<rect x="408.55" y="208.00" width="0.90" height="4.20" fill="#d8b070"/>
<rect x="418.05" y="208.00" width="0.90" height="4.20" fill="#d8b070"/>
<rect x="430.75" y="208.00" width="0.90" height="4.20" fill="#d8b070"/>
<rect x="433.45" y="208.00" width="0.90" height="4.20" fill="#d8b070"/>
<rect x="440.35" y="208.00" width="0.90" height="4.20" fill="#d8b070"/>
<rect x="460.30" y="208.00" width="1.40" height="4.20" fill="#d8b070"/>
<rect x="474.25" y="208.00" width="0.90" height="4.20" fill="#d8b070"/>
<rect x="495.60" y="208.00" width="1.40" height="4.20" fill="#d8b070"/>
<rect x="309.00" y="218.30" width="27.60" height="7.60" fill="#b2052e"/>
<rect x="336.60" y="220.80" width="166.20" height="3.80" fill="#b2052e"/>
<rect x="345.00" y="220.80" width="0.80" height="3.80" fill="#f0b0c0"/>
<rect x="352.00" y="220.80" width="0.80" height="3.80" fill="#f0b0c0"/>
<rect x="360.00" y="220.80" width="0.80" height="3.80" fill="#f0b0c0"/>
<rect x="365.00" y="220.80" width="0.80" height="3.80" fill="#f0b0c0"/>
<rect x="370.00" y="220.80" width="0.80" height="3.80" fill="#f0b0c0"/>
<rect x="377.00" y="220.80" width="0.80" height="3.80" fill="#f0b0c0"/>
<rect x="384.80" y="220.80" width="0.80" height="3.80" fill="#f0b0c0"/>
<rect x="394.20" y="220.80" width="0.80" height="3.80" fill="#f0b0c0"/>
<rect x="399.00" y="220.80" width="0.80" height="3.80" fill="#f0b0c0"/>
<rect x="405.00" y="220.80" width="0.80" height="3.80" fill="#f0b0c0"/>
<rect x="412.00" y="220.80" width="0.80" height="3.80" fill="#f0b0c0"/>
<rect x="421.10" y="220.80" width="0.80" height="3.80" fill="#f0b0c0"/>
<rect x="429.20" y="220.80" width="0.80" height="3.80" fill="#f0b0c0"/>
<rect x="436.00" y="220.80" width="0.80" height="3.80" fill="#f0b0c0"/>
<rect x="443.00" y="220.80" width="0.80" height="3.80" fill="#f0b0c0"/>
<rect x="449.40" y="220.80" width="0.80" height="3.80" fill="#f0b0c0"/>
<rect x="455.20" y="220.80" width="0.80" height="3.80" fill="#f0b0c0"/>
<rect x="462.00" y="220.80" width="0.80" height="3.80" fill="#f0b0c0"/>
<rect x="468.00" y="220.80" width="0.80" height="3.80" fill="#f0b0c0"/>
<rect x="474.00" y="220.80" width="0.80" height="3.80" fill="#f0b0c0"/>
<rect x="479.70" y="220.80" width="0.80" height="3.80" fill="#f0b0c0"/>
<rect x="488.40" y="220.80" width="0.80" height="3.80" fill="#f0b0c0"/>
<rect x="495.00" y="220.80" width="0.80" height="3.80" fill="#f0b0c0"/>
<polygon points="57.5,251.4 57.5,245.6 60.1,245.8 62.6,246.0 65.2,246.2 67.8,246.4 70.3,246.7 72.9,246.9 75.4,247.1 78.0,247.2 80.6,247.4 83.1,247.6 85.7,247.8 88.2,248.0 90.8,248.2 93.4,248.4 95.9,248.5 98.5,248.7 101.1,248.9 103.6,249.0 106.2,249.2 108.8,249.3 111.3,249.5 113.9,249.6 116.4,249.8 119.0,249.9 121.6,250.1 124.1,250.2 126.7,250.3 129.2,250.4 131.8,250.6 134.4,250.7 136.9,250.8 139.5,250.9 142.1,251.0 144.6,251.1 147.2,251.1 149.8,251.2 152.3,251.3 154.9,251.3 157.4,251.4 160.0,251.4 57.5,251.4" fill="#f3d7a4" stroke="#000" stroke-width="0.9" stroke-linejoin="round"/>
<polygon points="170.0,251.4 172.1,251.4 174.1,251.4 176.2,251.4 178.2,251.5 180.3,251.5 182.3,251.5 184.4,251.6 186.5,251.6 188.5,251.7 190.6,251.7 192.6,251.8 194.7,251.9 196.7,252.0 198.8,252.1 200.9,252.2 202.9,252.3 205.0,252.4 207.0,252.5 209.1,252.6 211.2,252.8 213.2,252.9 215.3,253.0 217.3,253.2 219.4,253.3 221.4,253.5 223.5,253.7 225.6,253.9 227.6,254.0 229.7,254.2 231.7,254.4 233.8,254.6 235.8,254.9 237.9,255.1 240.0,255.3 242.0,255.5 244.1,255.8 246.1,256.0 248.2,256.3 250.2,256.5 252.3,256.8 252.3,251.4 170.0,251.4" fill="#f3d7a4" stroke="#000" stroke-width="0.9" stroke-linejoin="round"/>
<line x1="57.5" y1="251.4" x2="252.3" y2="251.4" stroke="#000" stroke-width="1.4"/>
<polygon points="309.2,253.3 309.2,247.3 311.7,247.5 314.2,247.7 316.8,248.0 319.3,248.2 321.8,248.4 324.3,248.6 326.8,248.8 329.4,249.0 331.9,249.2 334.4,249.4 336.9,249.6 339.4,249.8 342.0,250.0 344.5,250.2 347.0,250.3 349.5,250.5 352.0,250.7 354.6,250.9 357.1,251.0 359.6,251.2 362.1,251.3 364.6,251.5 367.2,251.6 369.7,251.8 372.2,251.9 374.7,252.1 377.2,252.2 379.8,252.3 382.3,252.4 384.8,252.6 387.3,252.7 389.8,252.8 392.4,252.9 394.9,253.0 397.4,253.0 399.9,253.1 402.4,253.2 405.0,253.2 407.5,253.3 410.0,253.3 309.2,253.3" fill="#f3d7a4" stroke="#000" stroke-width="0.9" stroke-linejoin="round"/>
<polygon points="405.0,253.3 407.4,253.3 409.8,253.3 412.2,253.3 414.6,253.4 417.0,253.4 419.4,253.4 421.8,253.5 424.2,253.5 426.6,253.6 429.0,253.7 431.4,253.8 433.8,253.9 436.2,254.0 438.6,254.1 441.0,254.2 443.4,254.3 445.8,254.4 448.2,254.6 450.6,254.7 453.1,254.9 455.5,255.0 457.9,255.2 460.3,255.3 462.7,255.5 465.1,255.7 467.5,255.9 469.9,256.1 472.3,256.3 474.7,256.6 477.1,256.8 479.5,257.0 481.9,257.3 484.3,257.5 486.7,257.8 489.1,258.0 491.5,258.3 493.9,258.6 496.3,258.9 498.7,259.2 501.1,259.5 501.1,253.3 405.0,253.3" fill="#f3d7a4" stroke="#000" stroke-width="0.9" stroke-linejoin="round"/>
<line x1="309.2" y1="253.3" x2="501.1" y2="253.3" stroke="#000" stroke-width="1.4"/>
<g transform="translate(61.00,277.70)"><path d="M-1,4.3 L-3.2,5.0 Q-4.5,5.4 -4.6,7 L-4.9,15.5 L-3.8,16.2 L-3.5,9.8 L-3.0,14.5 L-2.8,25.6 L-0.4,25.6 L-0.2,16.5 L0.2,16.5 L0.4,25.6 L2.8,25.6 L3.0,14.5 L3.5,9.8 L3.8,16.2 L4.9,15.5 L4.6,7 Q4.5,5.4 3.2,5.0 L1,4.3 Z" fill="#a40e38" stroke="#2a020c" stroke-width="1.0" stroke-linejoin="round"/><ellipse cx="0" cy="2.2" rx="2.0" ry="2.2" fill="#a40e38" stroke="#2a020c" stroke-width="0.8"/><rect x="-2.9" y="23.6" width="5.8" height="2.1" fill="#2a020c"/><path d="M-3.4,9.6 L-3.1,14.8 M3.4,9.6 L3.1,14.8" stroke="#2a020c" stroke-width="0.6" fill="none"/></g>
<g transform="translate(66.60,277.70)"><path d="M-1,4.3 L-3.2,5.0 Q-4.5,5.4 -4.6,7 L-4.9,15.5 L-3.8,16.2 L-3.5,9.8 L-3.0,14.5 L-2.8,25.6 L-0.4,25.6 L-0.2,16.5 L0.2,16.5 L0.4,25.6 L2.8,25.6 L3.0,14.5 L3.5,9.8 L3.8,16.2 L4.9,15.5 L4.6,7 Q4.5,5.4 3.2,5.0 L1,4.3 Z" fill="#a40e38" stroke="#2a020c" stroke-width="1.0" stroke-linejoin="round"/><ellipse cx="0" cy="2.2" rx="2.0" ry="2.2" fill="#a40e38" stroke="#2a020c" stroke-width="0.8"/><rect x="-2.9" y="23.6" width="5.8" height="2.1" fill="#2a020c"/><path d="M-3.4,9.6 L-3.1,14.8 M3.4,9.6 L3.1,14.8" stroke="#2a020c" stroke-width="0.6" fill="none"/></g>
<g transform="translate(72.20,277.70)"><path d="M-1,4.3 L-3.2,5.0 Q-4.5,5.4 -4.6,7 L-4.9,15.5 L-3.8,16.2 L-3.5,9.8 L-3.0,14.5 L-2.8,25.6 L-0.4,25.6 L-0.2,16.5 L0.2,16.5 L0.4,25.6 L2.8,25.6 L3.0,14.5 L3.5,9.8 L3.8,16.2 L4.9,15.5 L4.6,7 Q4.5,5.4 3.2,5.0 L1,4.3 Z" fill="#a40e38" stroke="#2a020c" stroke-width="1.0" stroke-linejoin="round"/><ellipse cx="0" cy="2.2" rx="2.0" ry="2.2" fill="#a40e38" stroke="#2a020c" stroke-width="0.8"/><rect x="-2.9" y="23.6" width="5.8" height="2.1" fill="#2a020c"/><path d="M-3.4,9.6 L-3.1,14.8 M3.4,9.6 L3.1,14.8" stroke="#2a020c" stroke-width="0.6" fill="none"/></g>
<g transform="translate(77.80,277.70)"><path d="M-1,4.3 L-3.2,5.0 Q-4.5,5.4 -4.6,7 L-4.9,15.5 L-3.8,16.2 L-3.5,9.8 L-3.0,14.5 L-2.8,25.6 L-0.4,25.6 L-0.2,16.5 L0.2,16.5 L0.4,25.6 L2.8,25.6 L3.0,14.5 L3.5,9.8 L3.8,16.2 L4.9,15.5 L4.6,7 Q4.5,5.4 3.2,5.0 L1,4.3 Z" fill="#a40e38" stroke="#2a020c" stroke-width="1.0" stroke-linejoin="round"/><ellipse cx="0" cy="2.2" rx="2.0" ry="2.2" fill="#a40e38" stroke="#2a020c" stroke-width="0.8"/><rect x="-2.9" y="23.6" width="5.8" height="2.1" fill="#2a020c"/><path d="M-3.4,9.6 L-3.1,14.8 M3.4,9.6 L3.1,14.8" stroke="#2a020c" stroke-width="0.6" fill="none"/></g>
<g transform="translate(226.30,277.70)"><path d="M-1,4.3 L-3.2,5.0 Q-4.5,5.4 -4.6,7 L-4.9,15.5 L-3.8,16.2 L-3.5,9.8 L-3.0,14.5 L-2.8,25.6 L-0.4,25.6 L-0.2,16.5 L0.2,16.5 L0.4,25.6 L2.8,25.6 L3.0,14.5 L3.5,9.8 L3.8,16.2 L4.9,15.5 L4.6,7 Q4.5,5.4 3.2,5.0 L1,4.3 Z" fill="#a4a878" stroke="#1c1c0c" stroke-width="1.3" stroke-linejoin="round"/><ellipse cx="0" cy="2.2" rx="2.0" ry="2.2" fill="#a4a878" stroke="#1c1c0c" stroke-width="0.8"/><rect x="-2.9" y="23.6" width="5.8" height="2.1" fill="#1c1c0c"/><path d="M-3.4,9.6 L-3.1,14.8 M3.4,9.6 L3.1,14.8" stroke="#1c1c0c" stroke-width="0.6" fill="none"/></g>
<g transform="translate(232.50,277.70)"><path d="M-1,4.3 L-3.2,5.0 Q-4.5,5.4 -4.6,7 L-4.9,15.5 L-3.8,16.2 L-3.5,9.8 L-3.0,14.5 L-2.8,25.6 L-0.4,25.6 L-0.2,16.5 L0.2,16.5 L0.4,25.6 L2.8,25.6 L3.0,14.5 L3.5,9.8 L3.8,16.2 L4.9,15.5 L4.6,7 Q4.5,5.4 3.2,5.0 L1,4.3 Z" fill="#a4a878" stroke="#1c1c0c" stroke-width="1.3" stroke-linejoin="round"/><ellipse cx="0" cy="2.2" rx="2.0" ry="2.2" fill="#a4a878" stroke="#1c1c0c" stroke-width="0.8"/><rect x="-2.9" y="23.6" width="5.8" height="2.1" fill="#1c1c0c"/><path d="M-3.4,9.6 L-3.1,14.8 M3.4,9.6 L3.1,14.8" stroke="#1c1c0c" stroke-width="0.6" fill="none"/></g>
<g transform="translate(239.00,277.70)"><path d="M-1,4.3 L-3.2,5.0 Q-4.5,5.4 -4.6,7 L-4.9,15.5 L-3.8,16.2 L-3.5,9.8 L-3.0,14.5 L-2.8,25.6 L-0.4,25.6 L-0.2,16.5 L0.2,16.5 L0.4,25.6 L2.8,25.6 L3.0,14.5 L3.5,9.8 L3.8,16.2 L4.9,15.5 L4.6,7 Q4.5,5.4 3.2,5.0 L1,4.3 Z" fill="#a4a878" stroke="#1c1c0c" stroke-width="1.3" stroke-linejoin="round"/><ellipse cx="0" cy="2.2" rx="2.0" ry="2.2" fill="#a4a878" stroke="#1c1c0c" stroke-width="0.8"/><rect x="-2.9" y="23.6" width="5.8" height="2.1" fill="#1c1c0c"/><path d="M-3.4,9.6 L-3.1,14.8 M3.4,9.6 L3.1,14.8" stroke="#1c1c0c" stroke-width="0.6" fill="none"/></g>
<g transform="translate(245.40,277.70)"><path d="M-1,4.3 L-3.2,5.0 Q-4.5,5.4 -4.6,7 L-4.9,15.5 L-3.8,16.2 L-3.5,9.8 L-3.0,14.5 L-2.8,25.6 L-0.4,25.6 L-0.2,16.5 L0.2,16.5 L0.4,25.6 L2.8,25.6 L3.0,14.5 L3.5,9.8 L3.8,16.2 L4.9,15.5 L4.6,7 Q4.5,5.4 3.2,5.0 L1,4.3 Z" fill="#a4a878" stroke="#1c1c0c" stroke-width="1.3" stroke-linejoin="round"/><ellipse cx="0" cy="2.2" rx="2.0" ry="2.2" fill="#a4a878" stroke="#1c1c0c" stroke-width="0.8"/><rect x="-2.9" y="23.6" width="5.8" height="2.1" fill="#1c1c0c"/><path d="M-3.4,9.6 L-3.1,14.8 M3.4,9.6 L3.1,14.8" stroke="#1c1c0c" stroke-width="0.6" fill="none"/></g>
<text x="70.00" y="269.40" font-size="7.80" fill="#111" text-anchor="middle" font-weight="bold" font-style="normal" textLength="21.9" lengthAdjust="spacingAndGlyphs">GVHD</text>
<text x="70.20" y="276.20" font-size="7.00" fill="#333" text-anchor="middle" font-weight="normal" font-style="italic" textLength="15.4" lengthAdjust="spacingAndGlyphs">(n=7)</text>
<text x="235.60" y="269.40" font-size="7.80" fill="#111" text-anchor="middle" font-weight="bold" font-style="normal" textLength="35.2" lengthAdjust="spacingAndGlyphs">No GVHD</text>
<text x="235.90" y="276.20" font-size="7.00" fill="#333" text-anchor="middle" font-weight="normal" font-style="italic" textLength="15.4" lengthAdjust="spacingAndGlyphs">(n=7)</text>
<text x="147.10" y="277.00" font-size="8.90" fill="#111" text-anchor="middle" font-weight="bold" font-style="normal" textLength="28.5" lengthAdjust="spacingAndGlyphs">Day 28</text>
<text x="147.20" y="293.60" font-size="9.20" fill="#222" text-anchor="middle" font-weight="normal" font-style="italic" textLength="22.9" lengthAdjust="spacingAndGlyphs">versus</text>
<g transform="translate(312.30,279.30)"><path d="M-1,4.3 L-3.2,5.0 Q-4.5,5.4 -4.6,7 L-4.9,15.5 L-3.8,16.2 L-3.5,9.8 L-3.0,14.5 L-2.8,25.6 L-0.4,25.6 L-0.2,16.5 L0.2,16.5 L0.4,25.6 L2.8,25.6 L3.0,14.5 L3.5,9.8 L3.8,16.2 L4.9,15.5 L4.6,7 Q4.5,5.4 3.2,5.0 L1,4.3 Z" fill="#a40e38" stroke="#2a020c" stroke-width="1.0" stroke-linejoin="round"/><ellipse cx="0" cy="2.2" rx="2.0" ry="2.2" fill="#a40e38" stroke="#2a020c" stroke-width="0.8"/><rect x="-2.9" y="23.6" width="5.8" height="2.1" fill="#2a020c"/><path d="M-3.4,9.6 L-3.1,14.8 M3.4,9.6 L3.1,14.8" stroke="#2a020c" stroke-width="0.6" fill="none"/></g>
<g transform="translate(317.90,279.30)"><path d="M-1,4.3 L-3.2,5.0 Q-4.5,5.4 -4.6,7 L-4.9,15.5 L-3.8,16.2 L-3.5,9.8 L-3.0,14.5 L-2.8,25.6 L-0.4,25.6 L-0.2,16.5 L0.2,16.5 L0.4,25.6 L2.8,25.6 L3.0,14.5 L3.5,9.8 L3.8,16.2 L4.9,15.5 L4.6,7 Q4.5,5.4 3.2,5.0 L1,4.3 Z" fill="#a40e38" stroke="#2a020c" stroke-width="1.0" stroke-linejoin="round"/><ellipse cx="0" cy="2.2" rx="2.0" ry="2.2" fill="#a40e38" stroke="#2a020c" stroke-width="0.8"/><rect x="-2.9" y="23.6" width="5.8" height="2.1" fill="#2a020c"/><path d="M-3.4,9.6 L-3.1,14.8 M3.4,9.6 L3.1,14.8" stroke="#2a020c" stroke-width="0.6" fill="none"/></g>
<g transform="translate(323.50,279.30)"><path d="M-1,4.3 L-3.2,5.0 Q-4.5,5.4 -4.6,7 L-4.9,15.5 L-3.8,16.2 L-3.5,9.8 L-3.0,14.5 L-2.8,25.6 L-0.4,25.6 L-0.2,16.5 L0.2,16.5 L0.4,25.6 L2.8,25.6 L3.0,14.5 L3.5,9.8 L3.8,16.2 L4.9,15.5 L4.6,7 Q4.5,5.4 3.2,5.0 L1,4.3 Z" fill="#a40e38" stroke="#2a020c" stroke-width="1.0" stroke-linejoin="round"/><ellipse cx="0" cy="2.2" rx="2.0" ry="2.2" fill="#a40e38" stroke="#2a020c" stroke-width="0.8"/><rect x="-2.9" y="23.6" width="5.8" height="2.1" fill="#2a020c"/><path d="M-3.4,9.6 L-3.1,14.8 M3.4,9.6 L3.1,14.8" stroke="#2a020c" stroke-width="0.6" fill="none"/></g>
<g transform="translate(329.10,279.30)"><path d="M-1,4.3 L-3.2,5.0 Q-4.5,5.4 -4.6,7 L-4.9,15.5 L-3.8,16.2 L-3.5,9.8 L-3.0,14.5 L-2.8,25.6 L-0.4,25.6 L-0.2,16.5 L0.2,16.5 L0.4,25.6 L2.8,25.6 L3.0,14.5 L3.5,9.8 L3.8,16.2 L4.9,15.5 L4.6,7 Q4.5,5.4 3.2,5.0 L1,4.3 Z" fill="#a40e38" stroke="#2a020c" stroke-width="1.0" stroke-linejoin="round"/><ellipse cx="0" cy="2.2" rx="2.0" ry="2.2" fill="#a40e38" stroke="#2a020c" stroke-width="0.8"/><rect x="-2.9" y="23.6" width="5.8" height="2.1" fill="#2a020c"/><path d="M-3.4,9.6 L-3.1,14.8 M3.4,9.6 L3.1,14.8" stroke="#2a020c" stroke-width="0.6" fill="none"/></g>
<g transform="translate(475.20,279.30)"><path d="M-1,4.3 L-3.2,5.0 Q-4.5,5.4 -4.6,7 L-4.9,15.5 L-3.8,16.2 L-3.5,9.8 L-3.0,14.5 L-2.8,25.6 L-0.4,25.6 L-0.2,16.5 L0.2,16.5 L0.4,25.6 L2.8,25.6 L3.0,14.5 L3.5,9.8 L3.8,16.2 L4.9,15.5 L4.6,7 Q4.5,5.4 3.2,5.0 L1,4.3 Z" fill="#a4a878" stroke="#1c1c0c" stroke-width="1.3" stroke-linejoin="round"/><ellipse cx="0" cy="2.2" rx="2.0" ry="2.2" fill="#a4a878" stroke="#1c1c0c" stroke-width="0.8"/><rect x="-2.9" y="23.6" width="5.8" height="2.1" fill="#1c1c0c"/><path d="M-3.4,9.6 L-3.1,14.8 M3.4,9.6 L3.1,14.8" stroke="#1c1c0c" stroke-width="0.6" fill="none"/></g>
<g transform="translate(481.40,279.30)"><path d="M-1,4.3 L-3.2,5.0 Q-4.5,5.4 -4.6,7 L-4.9,15.5 L-3.8,16.2 L-3.5,9.8 L-3.0,14.5 L-2.8,25.6 L-0.4,25.6 L-0.2,16.5 L0.2,16.5 L0.4,25.6 L2.8,25.6 L3.0,14.5 L3.5,9.8 L3.8,16.2 L4.9,15.5 L4.6,7 Q4.5,5.4 3.2,5.0 L1,4.3 Z" fill="#a4a878" stroke="#1c1c0c" stroke-width="1.3" stroke-linejoin="round"/><ellipse cx="0" cy="2.2" rx="2.0" ry="2.2" fill="#a4a878" stroke="#1c1c0c" stroke-width="0.8"/><rect x="-2.9" y="23.6" width="5.8" height="2.1" fill="#1c1c0c"/><path d="M-3.4,9.6 L-3.1,14.8 M3.4,9.6 L3.1,14.8" stroke="#1c1c0c" stroke-width="0.6" fill="none"/></g>
<g transform="translate(487.90,279.30)"><path d="M-1,4.3 L-3.2,5.0 Q-4.5,5.4 -4.6,7 L-4.9,15.5 L-3.8,16.2 L-3.5,9.8 L-3.0,14.5 L-2.8,25.6 L-0.4,25.6 L-0.2,16.5 L0.2,16.5 L0.4,25.6 L2.8,25.6 L3.0,14.5 L3.5,9.8 L3.8,16.2 L4.9,15.5 L4.6,7 Q4.5,5.4 3.2,5.0 L1,4.3 Z" fill="#a4a878" stroke="#1c1c0c" stroke-width="1.3" stroke-linejoin="round"/><ellipse cx="0" cy="2.2" rx="2.0" ry="2.2" fill="#a4a878" stroke="#1c1c0c" stroke-width="0.8"/><rect x="-2.9" y="23.6" width="5.8" height="2.1" fill="#1c1c0c"/><path d="M-3.4,9.6 L-3.1,14.8 M3.4,9.6 L3.1,14.8" stroke="#1c1c0c" stroke-width="0.6" fill="none"/></g>
<g transform="translate(494.30,279.30)"><path d="M-1,4.3 L-3.2,5.0 Q-4.5,5.4 -4.6,7 L-4.9,15.5 L-3.8,16.2 L-3.5,9.8 L-3.0,14.5 L-2.8,25.6 L-0.4,25.6 L-0.2,16.5 L0.2,16.5 L0.4,25.6 L2.8,25.6 L3.0,14.5 L3.5,9.8 L3.8,16.2 L4.9,15.5 L4.6,7 Q4.5,5.4 3.2,5.0 L1,4.3 Z" fill="#a4a878" stroke="#1c1c0c" stroke-width="1.3" stroke-linejoin="round"/><ellipse cx="0" cy="2.2" rx="2.0" ry="2.2" fill="#a4a878" stroke="#1c1c0c" stroke-width="0.8"/><rect x="-2.9" y="23.6" width="5.8" height="2.1" fill="#1c1c0c"/><path d="M-3.4,9.6 L-3.1,14.8 M3.4,9.6 L3.1,14.8" stroke="#1c1c0c" stroke-width="0.6" fill="none"/></g>
<text x="320.60" y="271.80" font-size="7.80" fill="#111" text-anchor="middle" font-weight="bold" font-style="normal" textLength="22.6" lengthAdjust="spacingAndGlyphs">GVHD</text>
<text x="321.90" y="278.40" font-size="7.00" fill="#333" text-anchor="middle" font-weight="normal" font-style="italic" textLength="17.0" lengthAdjust="spacingAndGlyphs">(n=5)</text>
<text x="484.50" y="271.80" font-size="7.80" fill="#111" text-anchor="middle" font-weight="bold" font-style="normal" textLength="35.3" lengthAdjust="spacingAndGlyphs">No GVHD</text>
<text x="484.80" y="278.40" font-size="7.00" fill="#333" text-anchor="middle" font-weight="normal" font-style="italic" textLength="15.0" lengthAdjust="spacingAndGlyphs">(n=4)</text>
<text x="399.40" y="278.80" font-size="8.90" fill="#111" text-anchor="middle" font-weight="bold" font-style="normal" textLength="28.9" lengthAdjust="spacingAndGlyphs">Day 60</text>
<text x="399.50" y="292.80" font-size="9.20" fill="#222" text-anchor="middle" font-weight="normal" font-style="italic" textLength="22.9" lengthAdjust="spacingAndGlyphs">versus</text>
<line x1="236.3" y1="342.0" x2="253.5" y2="370.8" stroke="#000" stroke-width="1.1"/>
<polygon points="256.6,375.9 251.1,371.0 254.9,368.8" fill="#000"/>
<line x1="313.0" y1="342.0" x2="296.2" y2="370.4" stroke="#000" stroke-width="1.1"/>
<polygon points="293.2,375.6 294.9,368.5 298.6,370.7" fill="#000"/>
<rect x="232.00" y="388.60" width="10.20" height="250.90" fill="#000"/>
<g shape-rendering="crispEdges">
<rect x="246.00" y="388.80" width="30.00" height="8.58" fill="#e09cb4"/>
<rect x="276.00" y="388.80" width="30.00" height="8.58" fill="#e09cb4"/>
<rect x="246.00" y="396.88" width="30.00" height="8.58" fill="#e09cb4"/>
<rect x="276.00" y="396.88" width="30.00" height="8.58" fill="#e09cb4"/>
<rect x="246.00" y="404.96" width="30.00" height="8.58" fill="#e09cb4"/>
<rect x="276.00" y="404.96" width="30.00" height="8.58" fill="#e09cb4"/>
<rect x="246.00" y="413.04" width="30.00" height="8.58" fill="#e09cb4"/>
<rect x="276.00" y="413.04" width="30.00" height="8.58" fill="#d6687c"/>
<rect x="246.00" y="421.12" width="30.00" height="8.58" fill="#e09cb4"/>
<rect x="276.00" y="421.12" width="30.00" height="8.58" fill="#d6687c"/>
<rect x="246.00" y="429.20" width="30.00" height="8.58" fill="#d6687c"/>
<rect x="276.00" y="429.20" width="30.00" height="8.58" fill="#d6687c"/>
<rect x="246.00" y="437.28" width="30.00" height="8.58" fill="#d6687c"/>
<rect x="276.00" y="437.28" width="30.00" height="8.58" fill="#d6687c"/>
<rect x="246.00" y="445.36" width="30.00" height="8.58" fill="#e2a2b8"/>
<rect x="276.00" y="445.36" width="30.00" height="8.58" fill="#d4505c"/>
<rect x="246.00" y="453.44" width="30.00" height="8.58" fill="#e2a2b8"/>
<rect x="276.00" y="453.44" width="30.00" height="8.58" fill="#d87088"/>
<rect x="246.00" y="461.52" width="30.00" height="8.58" fill="#d6687c"/>
<rect x="276.00" y="461.52" width="30.00" height="8.58" fill="#d4505c"/>
<rect x="246.00" y="469.60" width="30.00" height="8.58" fill="#d6687c"/>
<rect x="276.00" y="469.60" width="30.00" height="8.58" fill="#d4505c"/>
<rect x="246.00" y="477.68" width="30.00" height="8.58" fill="#e2a2b8"/>
<rect x="276.00" y="477.68" width="30.00" height="8.58" fill="#d4505c"/>
<rect x="246.00" y="485.76" width="30.00" height="8.58" fill="#d6687c"/>
<rect x="276.00" y="485.76" width="30.00" height="8.58" fill="#d4505c"/>
<rect x="246.00" y="493.84" width="30.00" height="8.58" fill="#d63c4a"/>
<rect x="276.00" y="493.84" width="30.00" height="8.58" fill="#d87088"/>
<rect x="246.00" y="501.92" width="30.00" height="8.58" fill="#d87088"/>
<rect x="276.00" y="501.92" width="30.00" height="8.58" fill="#cc0c1c"/>
<rect x="246.00" y="510.00" width="30.00" height="8.58" fill="#b8b8de"/>
<rect x="276.00" y="510.00" width="30.00" height="8.58" fill="#d6687c"/>
<rect x="246.00" y="518.08" width="30.00" height="8.58" fill="#8e8ec8"/>
<rect x="276.00" y="518.08" width="30.00" height="8.58" fill="#d6687c"/>
<rect x="246.00" y="526.16" width="30.00" height="8.58" fill="#b8b8de"/>
<rect x="276.00" y="526.16" width="30.00" height="8.58" fill="#d4505c"/>
<rect x="246.00" y="534.24" width="30.00" height="8.58" fill="#b8b8de"/>
<rect x="276.00" y="534.24" width="30.00" height="8.58" fill="#d6687c"/>
<rect x="246.00" y="542.32" width="30.00" height="8.58" fill="#b8b8de"/>
<rect x="276.00" y="542.32" width="30.00" height="8.58" fill="#d6687c"/>
<rect x="246.00" y="550.40" width="30.00" height="8.58" fill="#b8b8de"/>
<rect x="276.00" y="550.40" width="30.00" height="8.58" fill="#e09cb4"/>
<rect x="246.00" y="558.48" width="30.00" height="8.58" fill="#b8b8de"/>
<rect x="276.00" y="558.48" width="30.00" height="8.58" fill="#e09cb4"/>
<rect x="246.00" y="566.56" width="30.00" height="8.58" fill="#b8b8de"/>
<rect x="276.00" y="566.56" width="30.00" height="8.58" fill="#d6687c"/>
<rect x="246.00" y="574.64" width="30.00" height="8.58" fill="#8e8ec8"/>
<rect x="276.00" y="574.64" width="30.00" height="8.58" fill="#d6687c"/>
<rect x="246.00" y="582.72" width="30.00" height="8.58" fill="#b8b8de"/>
<rect x="276.00" y="582.72" width="30.00" height="8.58" fill="#d6687c"/>
<rect x="246.00" y="590.80" width="30.00" height="8.58" fill="#b8b8de"/>
<rect x="276.00" y="590.80" width="30.00" height="8.58" fill="#d6687c"/>
<rect x="246.00" y="598.88" width="30.00" height="8.58" fill="#b8b8de"/>
<rect x="276.00" y="598.88" width="30.00" height="8.58" fill="#d6687c"/>
<rect x="246.00" y="606.96" width="30.00" height="8.58" fill="#9a9acc"/>
<rect x="276.00" y="606.96" width="30.00" height="8.58" fill="#d6687c"/>
<rect x="246.00" y="615.04" width="30.00" height="8.58" fill="#9a9acc"/>
<rect x="276.00" y="615.04" width="30.00" height="8.58" fill="#d6687c"/>
<rect x="246.00" y="623.12" width="30.00" height="8.58" fill="#6a6ab6"/>
<rect x="276.00" y="623.12" width="30.00" height="8.58" fill="#d4505c"/>
<rect x="246.00" y="631.20" width="30.00" height="8.58" fill="#5a5aae"/>
<rect x="276.00" y="631.20" width="30.00" height="8.58" fill="#d6687c"/>
</g>
<text x="309.70" y="395.74" font-size="8.80" fill="#1a1a1a" text-anchor="start" font-weight="normal" font-style="normal" textLength="19.2" lengthAdjust="spacingAndGlyphs">TLR2</text>
<text x="309.70" y="403.82" font-size="8.80" fill="#1a1a1a" text-anchor="start" font-weight="normal" font-style="normal" textLength="29.1" lengthAdjust="spacingAndGlyphs">LPCAT2</text>
<text x="309.70" y="411.90" font-size="8.80" fill="#1a1a1a" text-anchor="start" font-weight="normal" font-style="normal" textLength="19.2" lengthAdjust="spacingAndGlyphs">TLR8</text>
<text x="309.70" y="419.98" font-size="8.80" fill="#1a1a1a" text-anchor="start" font-weight="normal" font-style="normal" textLength="17.5" lengthAdjust="spacingAndGlyphs">IER3</text>
<text x="309.70" y="428.06" font-size="8.80" fill="#1a1a1a" text-anchor="start" font-weight="normal" font-style="normal" textLength="21.8" lengthAdjust="spacingAndGlyphs">ORC2</text>
<text x="309.70" y="436.14" font-size="8.80" fill="#1a1a1a" text-anchor="start" font-weight="normal" font-style="normal" textLength="26.2" lengthAdjust="spacingAndGlyphs">DUSP6</text>
<text x="309.70" y="444.22" font-size="8.80" fill="#1a1a1a" text-anchor="start" font-weight="normal" font-style="normal" textLength="21.4" lengthAdjust="spacingAndGlyphs">CCR1</text>
<text x="309.70" y="452.30" font-size="8.80" fill="#1a1a1a" text-anchor="start" font-weight="normal" font-style="normal" textLength="25.8" lengthAdjust="spacingAndGlyphs">PTGS2</text>
<text x="309.70" y="460.38" font-size="8.80" fill="#1a1a1a" text-anchor="start" font-weight="normal" font-style="normal" textLength="29.3" lengthAdjust="spacingAndGlyphs">NAP1L2</text>
<text x="309.70" y="468.46" font-size="8.80" fill="#1a1a1a" text-anchor="start" font-weight="normal" font-style="normal" textLength="23.1" lengthAdjust="spacingAndGlyphs">MNDA</text>
<text x="309.70" y="476.54" font-size="8.80" fill="#1a1a1a" text-anchor="start" font-weight="normal" font-style="normal" textLength="25.3" lengthAdjust="spacingAndGlyphs">C3AR1</text>
<text x="309.70" y="484.62" font-size="8.80" fill="#1a1a1a" text-anchor="start" font-weight="normal" font-style="normal" textLength="25.3" lengthAdjust="spacingAndGlyphs">C5AR1</text>
<text x="309.70" y="492.70" font-size="8.80" fill="#1a1a1a" text-anchor="start" font-weight="normal" font-style="normal" textLength="21.8" lengthAdjust="spacingAndGlyphs">VCAN</text>
<text x="309.70" y="500.78" font-size="8.80" fill="#1a1a1a" text-anchor="start" font-weight="normal" font-style="normal" textLength="31.9" lengthAdjust="spacingAndGlyphs">TMEM43</text>
<text x="309.70" y="508.86" font-size="8.80" fill="#1a1a1a" text-anchor="start" font-weight="normal" font-style="normal" textLength="27.1" lengthAdjust="spacingAndGlyphs">GGPS1</text>
<text x="309.70" y="516.94" font-size="8.80" fill="#1a1a1a" text-anchor="start" font-weight="normal" font-style="normal" textLength="20.5" lengthAdjust="spacingAndGlyphs">FCN1</text>
<text x="309.70" y="525.02" font-size="8.80" fill="#1a1a1a" text-anchor="start" font-weight="normal" font-style="normal" textLength="13.8" lengthAdjust="spacingAndGlyphs">LYZ</text>
<text x="309.70" y="533.10" font-size="8.80" fill="#1a1a1a" text-anchor="start" font-weight="normal" font-style="normal" textLength="16.2" lengthAdjust="spacingAndGlyphs">IL1B</text>
<text x="309.70" y="541.18" font-size="8.80" fill="#1a1a1a" text-anchor="start" font-weight="normal" font-style="normal" textLength="26.2" lengthAdjust="spacingAndGlyphs">LILRB2</text>
<text x="309.70" y="549.26" font-size="8.80" fill="#1a1a1a" text-anchor="start" font-weight="normal" font-style="normal" textLength="26.2" lengthAdjust="spacingAndGlyphs">LILRB1</text>
<text x="309.70" y="557.34" font-size="8.80" fill="#1a1a1a" text-anchor="start" font-weight="normal" font-style="normal" textLength="19.6" lengthAdjust="spacingAndGlyphs">EAF2</text>
<text x="309.70" y="565.42" font-size="8.80" fill="#1a1a1a" text-anchor="start" font-weight="normal" font-style="normal" textLength="25.3" lengthAdjust="spacingAndGlyphs">CXCL2</text>
<text x="309.70" y="573.50" font-size="8.80" fill="#1a1a1a" text-anchor="start" font-weight="normal" font-style="normal" textLength="19.2" lengthAdjust="spacingAndGlyphs">TLR4</text>
<text x="309.70" y="581.58" font-size="8.80" fill="#1a1a1a" text-anchor="start" font-weight="normal" font-style="normal" textLength="20.1" lengthAdjust="spacingAndGlyphs">G0S2</text>
<text x="309.70" y="589.66" font-size="8.80" fill="#1a1a1a" text-anchor="start" font-weight="normal" font-style="normal" textLength="15.7" lengthAdjust="spacingAndGlyphs">CLC</text>
<text x="309.70" y="597.74" font-size="8.80" fill="#1a1a1a" text-anchor="start" font-weight="normal" font-style="normal" textLength="24.9" lengthAdjust="spacingAndGlyphs">PLBD1</text>
<text x="309.70" y="605.82" font-size="8.80" fill="#1a1a1a" text-anchor="start" font-weight="normal" font-style="normal" textLength="21.8" lengthAdjust="spacingAndGlyphs">MAFB</text>
<text x="309.70" y="613.90" font-size="8.80" fill="#1a1a1a" text-anchor="start" font-weight="normal" font-style="normal" textLength="21.4" lengthAdjust="spacingAndGlyphs">CYBB</text>
<text x="309.70" y="621.98" font-size="8.80" fill="#1a1a1a" text-anchor="start" font-weight="normal" font-style="normal" textLength="31.0" lengthAdjust="spacingAndGlyphs">MS4A6A</text>
<text x="309.70" y="630.06" font-size="8.80" fill="#1a1a1a" text-anchor="start" font-weight="normal" font-style="normal" textLength="31.9" lengthAdjust="spacingAndGlyphs">FCER1G</text>
<text x="309.70" y="638.14" font-size="8.80" fill="#1a1a1a" text-anchor="start" font-weight="normal" font-style="normal" textLength="27.5" lengthAdjust="spacingAndGlyphs">MPEG1</text>
<text x="259.30" y="650.40" font-size="8.50" fill="#1a1a1a" text-anchor="middle" font-weight="normal" font-style="normal" textLength="25.0" lengthAdjust="spacingAndGlyphs">Day 28</text>
<text x="259.30" y="659.10" font-size="8.50" fill="#1a1a1a" text-anchor="middle" font-weight="normal" font-style="normal" textLength="23.8" lengthAdjust="spacingAndGlyphs">GVHD</text>
<text x="259.30" y="667.80" font-size="8.50" fill="#1a1a1a" text-anchor="middle" font-weight="normal" font-style="normal" textLength="7.2" lengthAdjust="spacingAndGlyphs">vs</text>
<text x="259.30" y="676.90" font-size="8.50" fill="#1a1a1a" text-anchor="middle" font-weight="normal" font-style="normal" textLength="36.2" lengthAdjust="spacingAndGlyphs">No GVHD</text>
<text x="297.40" y="650.40" font-size="8.50" fill="#1a1a1a" text-anchor="middle" font-weight="normal" font-style="normal" textLength="25.0" lengthAdjust="spacingAndGlyphs">Day 60</text>
<text x="297.40" y="659.10" font-size="8.50" fill="#1a1a1a" text-anchor="middle" font-weight="normal" font-style="normal" textLength="23.8" lengthAdjust="spacingAndGlyphs">GVHD</text>
<text x="297.40" y="667.80" font-size="8.50" fill="#1a1a1a" text-anchor="middle" font-weight="normal" font-style="normal" textLength="7.2" lengthAdjust="spacingAndGlyphs">vs</text>
<text x="297.40" y="676.90" font-size="8.50" fill="#1a1a1a" text-anchor="middle" font-weight="normal" font-style="normal" textLength="36.2" lengthAdjust="spacingAndGlyphs">No GVHD</text>
<path d="M177.3,492.4L177.3,607.8 M177.3,492.4L200.9,492.4 M200.9,478.4L200.9,506.0 M200.9,506.0L228.0,506.0 M200.9,478.4L212.6,478.4 M212.6,458.4L212.6,498.3 M212.6,498.3L228.0,498.3 M212.6,458.4L216.4,458.4 M216.4,438.9L216.4,477.9 M216.4,477.9L222.8,477.9 M222.8,469.6L222.8,485.5 M222.8,469.6L225.8,469.6 M225.8,465.6L225.8,473.6 M225.8,465.6L228.0,465.6 M225.8,473.6L228.0,473.6 M222.8,485.5L225.8,485.5 M225.8,481.7L225.8,489.8 M225.8,481.7L228.0,481.7 M225.8,489.8L228.0,489.8 M216.4,438.9L221.4,438.9 M221.4,424.4L221.4,453.3 M221.4,453.3L225.7,453.3 M225.7,449.4L225.7,457.5 M225.7,449.4L228.0,449.4 M225.7,457.5L228.0,457.5 M221.4,424.4L223.7,424.4 M223.7,411.6L223.7,437.1 M223.7,437.1L226.6,437.1 M226.6,433.2L226.6,441.3 M226.6,433.2L228.0,433.2 M226.6,441.3L228.0,441.3 M223.7,411.6L225.3,411.6 M225.3,402.5L225.3,421.0 M225.3,421.0L227.0,421.0 M227.0,417.1L227.0,425.2 M227.0,417.1L228.0,417.1 M227.0,425.2L228.0,425.2 M225.3,402.5L226.6,402.5 M226.6,398.0L226.6,409.0 M226.6,409.0L228.0,409.0 M226.6,398.0L227.3,398.0 M227.3,392.8L227.3,400.9 M227.3,392.8L228.0,392.8 M227.3,400.9L228.0,400.9 M177.3,607.8L212.1,607.8 M212.1,584.1L212.1,631.2 M212.1,631.2L219.3,631.2 M219.3,627.2L219.3,635.2 M219.3,627.2L228.0,627.2 M219.3,635.2L228.0,635.2 M212.1,584.1L221.8,584.1 M221.8,524.2L221.8,614.9 M221.8,614.9L225.4,614.9 M225.4,611.0L225.4,619.1 M225.4,611.0L228.0,611.0 M225.4,619.1L228.0,619.1 M221.8,524.2L225.4,524.2 M225.4,517.5L225.4,530.2 M225.4,530.2L228.0,530.2 M225.4,517.5L226.8,517.5 M226.8,514.0L226.8,522.1 M226.8,514.0L228.0,514.0 M226.8,522.1L228.0,522.1 M221.8,575.0L226.2,575.0 M226.2,545.0L226.2,598.0 M226.2,545.0L227.0,545.0 M227.0,538.3L227.0,554.4 M227.0,538.3L228.0,538.3 M227.0,546.4L228.0,546.4 M227.0,554.4L228.0,554.4 M226.2,560.0L226.8,560.0 M226.8,562.5L226.8,570.6 M226.8,562.5L228.0,562.5 M226.8,570.6L228.0,570.6 M226.2,598.0L226.9,598.0 M226.9,578.7L226.9,602.9 M226.9,578.7L228.0,578.7 M226.9,586.8L228.0,586.8 M226.9,594.8L228.0,594.8 M226.9,602.9L228.0,602.9" fill="none" stroke="#222" stroke-width="0.85"/>
<g shape-rendering="crispEdges">
<rect x="378.88" y="399.30" width="6.07" height="9.00" fill="#3a46a0"/>
<rect x="384.65" y="399.30" width="4.34" height="9.00" fill="#4e5cac"/>
<rect x="388.69" y="399.30" width="4.91" height="9.00" fill="#6a76bc"/>
<rect x="393.30" y="399.30" width="4.34" height="9.00" fill="#8c92cc"/>
<rect x="397.34" y="399.30" width="3.76" height="9.00" fill="#b4b6e0"/>
<rect x="400.80" y="399.30" width="4.34" height="9.00" fill="#e2e0f4"/>
<rect x="404.84" y="399.30" width="3.76" height="9.00" fill="#f4dce8"/>
<rect x="408.30" y="399.30" width="3.76" height="9.00" fill="#f0bccf"/>
<rect x="411.76" y="399.30" width="4.34" height="9.00" fill="#e898ae"/>
<rect x="415.79" y="399.30" width="4.34" height="9.00" fill="#e07082"/>
<rect x="419.83" y="399.30" width="4.91" height="9.00" fill="#da4a5a"/>
<rect x="424.44" y="399.30" width="4.34" height="9.00" fill="#d62836"/>
<rect x="428.48" y="399.30" width="4.34" height="9.00" fill="#cc1424"/>
</g>
<rect x="378.9" y="399.3" width="53.6" height="9.0" fill="none" stroke="#333" stroke-width="0.5"/>
<line x1="391.2" y1="408.4" x2="391.2" y2="411" stroke="#000" stroke-width="0.9"/>
<line x1="405.6" y1="408.4" x2="405.6" y2="411" stroke="#000" stroke-width="0.9"/>
<line x1="420.0" y1="408.4" x2="420.0" y2="411" stroke="#000" stroke-width="0.9"/>
<text x="405.60" y="396.30" font-size="8.70" fill="#1a1a1a" text-anchor="middle" font-weight="normal" font-style="normal" textLength="34.7" lengthAdjust="spacingAndGlyphs">Color Key</text>
<text x="391.00" y="421.30" font-size="8.00" fill="#1a1a1a" text-anchor="middle" font-weight="normal" font-style="normal" stroke="#1a1a1a" stroke-width="0.20">−2</text>
<text x="405.60" y="421.30" font-size="8.00" fill="#1a1a1a" text-anchor="middle" font-weight="normal" font-style="normal" stroke="#1a1a1a" stroke-width="0.20">0</text>
<text x="420.00" y="421.30" font-size="8.00" fill="#1a1a1a" text-anchor="middle" font-weight="normal" font-style="normal" stroke="#1a1a1a" stroke-width="0.20">2</text>
<text x="405.90" y="434.80" font-size="10.70" fill="#1a1a1a" text-anchor="middle" font-weight="normal" font-style="normal" textLength="95.7" lengthAdjust="spacingAndGlyphs">Expression Fold Change</text>
<rect x="0.75" y="0.75" width="518.5" height="683.5" fill="none" stroke="#000" stroke-width="1.6"/>
<text x="7.6" y="16.4" font-size="12.8" font-weight="bold" fill="#000" style="font-family:"Liberation Sans", sans-serif">A</text>
<text x="278.5" y="16.4" font-size="12.2" font-weight="bold" fill="#000" style="font-family:"Liberation Sans", sans-serif">B</text>
<text x="7.2" y="400" font-size="12.8" font-weight="bold" fill="#000" style="font-family:"Liberation Sans", sans-serif">C</text>
</svg></body></html>
